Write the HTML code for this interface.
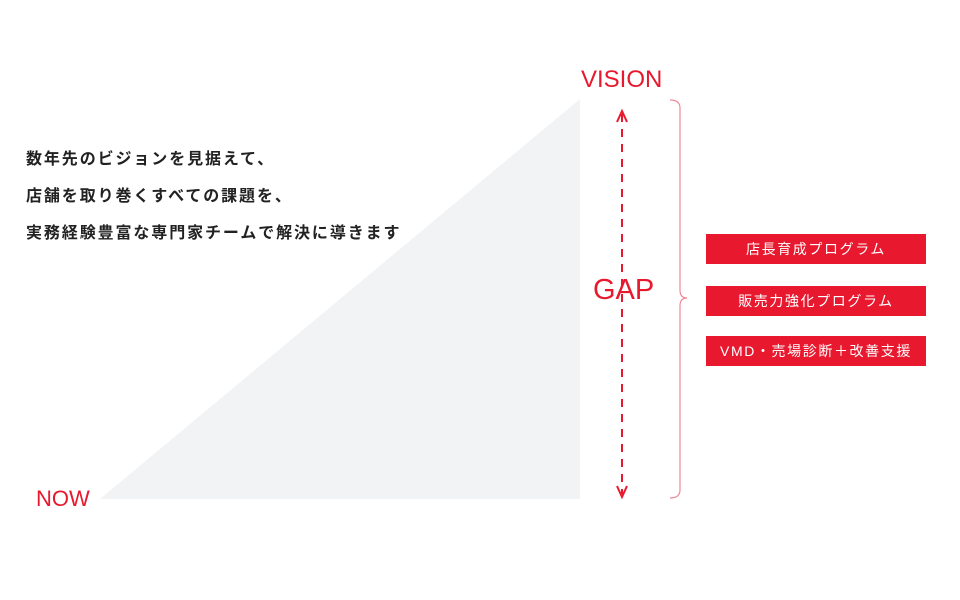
<!DOCTYPE html>
<html><head><meta charset="utf-8"><style>
body{margin:0;width:960px;height:600px;background:#fff;position:relative;overflow:hidden;font-family:"Liberation Sans","Noto Sans CJK JP",sans-serif}
.t{position:absolute;left:26px;font-size:16px;font-weight:bold;color:#222;letter-spacing:1.9px;line-height:20px}
.r{position:absolute;color:#e8192f;line-height:1}
.b{position:absolute;left:706px;width:220px;height:30px;background:#e8192f;color:#fff;font-size:14px;letter-spacing:1.6px;line-height:30px;text-align:center;font-family:"Liberation Sans","Noto Sans CJK JP",sans-serif}
</style></head><body>
<svg width="960" height="600" style="position:absolute;left:0;top:0">
<polygon points="100,499 580,99 580,499" fill="#f2f3f5"/>
<line x1="622" y1="114" x2="622" y2="494" stroke="#e8192f" stroke-width="2" stroke-dasharray="8,7"/>
<polyline points="617,122 622,111 627,122" fill="none" stroke="#e8192f" stroke-width="2"/>
<polyline points="617,486 622,497 627,486" fill="none" stroke="#e8192f" stroke-width="2"/>
<path d="M670,100 Q680,100 680,108 L680,290 Q680,298 687,298 Q680,298 680,306 L680,490 Q680,498 670,498" fill="none" stroke="#f08a97" stroke-width="1.2"/>
</svg>
<div class="t" style="top:150px">数年先のビジョンを見据えて、</div>
<div class="t" style="top:187px">店舗を取り巻くすべての課題を、</div>
<div class="t" style="top:224px">実務経験豊富な専門家チームで解決に導きます</div>
<div class="r" style="left:581px;top:68px;font-size:24px">VISION</div>
<div class="r" style="left:36px;top:488px;font-size:22px">NOW</div>
<div class="r" style="left:593px;top:276px;font-size:29px">GAP</div>
<div class="b" style="top:234px">店長育成プログラム</div>
<div class="b" style="top:286px">販売力強化プログラム</div>
<div class="b" style="top:336px">VMD・売場診断＋改善支援</div>
</body></html>
